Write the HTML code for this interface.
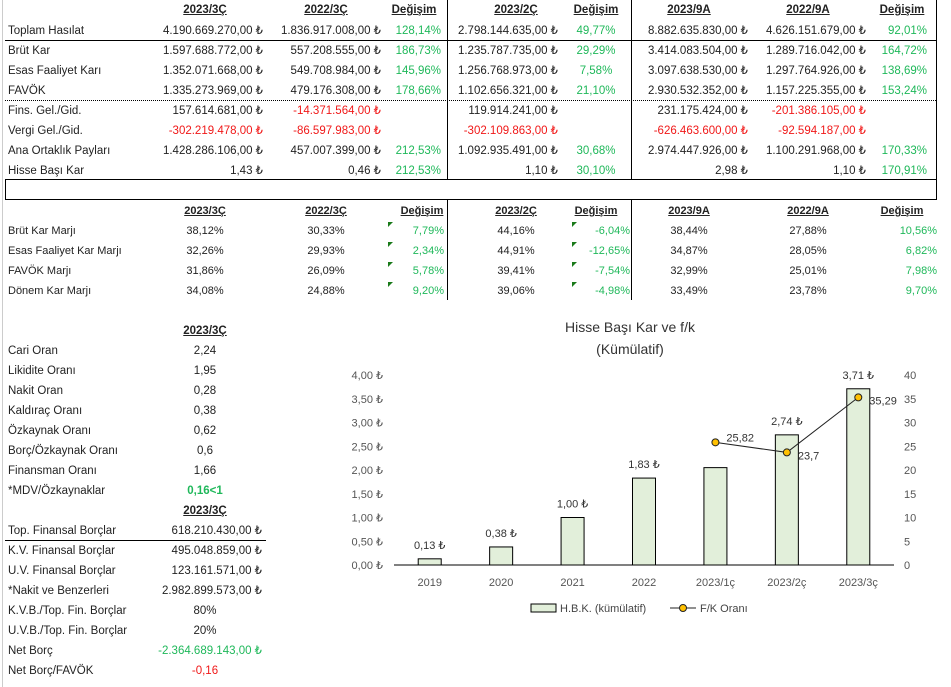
<!DOCTYPE html>
<html><head><meta charset="utf-8">
<style>
body{margin:0;width:951px;height:687px;background:#fff;position:relative;overflow:hidden;font-family:"Liberation Sans","DejaVu Sans",sans-serif;font-size:11.5px;color:#222}
.c{position:absolute;white-space:nowrap;line-height:14px}
.h{font-weight:bold;text-decoration:underline}
.g{color:#1fb85a}.r{color:#f01818}
.ln{position:absolute;background:#000}
.tri{position:absolute;width:0;height:0;border-top:5px solid #1a7a1a;border-right:5px solid transparent}
</style></head><body>
<div class="ln" style="left:2px;top:0;width:1px;height:687px;background:#ccc"></div>
<div class="ln" style="left:5px;top:40px;width:931px;height:1px"></div>
<div class="ln" style="left:5px;top:100px;width:931px;height:0;background:none;border-top:1px dotted #000"></div>
<div class="ln" style="left:447px;top:0;width:1px;height:180px"></div>
<div class="ln" style="left:631px;top:0;width:1px;height:180px"></div>
<div class="ln" style="left:447px;top:199px;width:1px;height:101px"></div>
<div class="ln" style="left:631px;top:199px;width:1px;height:101px"></div>
<div class="ln" style="left:936px;top:0;width:1px;height:200px"></div>
<div class="ln" style="left:5px;top:179px;width:930px;height:19px;background:none;border:1px solid #000"></div>
<div class="ln" style="left:5px;top:540px;width:261px;height:1px"></div>
<div id="cells"></div>
<svg id="chart" width="951" height="687" style="position:absolute;left:0;top:0" font-family="Liberation Sans, DejaVu Sans, sans-serif"></svg>
<script>
const rowsTop = [
["Toplam Hasılat","4.190.669.270,00 ₺","1.836.917.008,00 ₺","128,14%","2.798.144.635,00 ₺","49,77%","8.882.635.830,00 ₺","4.626.151.679,00 ₺","92,01%"],
["Brüt Kar","1.597.688.772,00 ₺","557.208.555,00 ₺","186,73%","1.235.787.735,00 ₺","29,29%","3.414.083.504,00 ₺","1.289.716.042,00 ₺","164,72%"],
["Esas Faaliyet Karı","1.352.071.668,00 ₺","549.708.984,00 ₺","145,96%","1.256.768.973,00 ₺","7,58%","3.097.638.530,00 ₺","1.297.764.926,00 ₺","138,69%"],
["FAVÖK","1.335.273.969,00 ₺","479.176.308,00 ₺","178,66%","1.102.656.321,00 ₺","21,10%","2.930.532.352,00 ₺","1.157.225.355,00 ₺","153,24%"],
["Fins. Gel./Gid.","157.614.681,00 ₺","-14.371.564,00 ₺","","119.914.241,00 ₺","","231.175.424,00 ₺","-201.386.105,00 ₺",""],
["Vergi Gel./Gid.","-302.219.478,00 ₺","-86.597.983,00 ₺","","-302.109.863,00 ₺","","-626.463.600,00 ₺","-92.594.187,00 ₺",""],
["Ana Ortaklık Payları","1.428.286.106,00 ₺","457.007.399,00 ₺","212,53%","1.092.935.491,00 ₺","30,68%","2.974.447.926,00 ₺","1.100.291.968,00 ₺","170,33%"],
["Hisse Başı Kar","1,43 ₺","0,46 ₺","212,53%","1,10 ₺","30,10%","2,98 ₺","1,10 ₺","170,91%"]];
const rowsMid = [
["Brüt Kar Marjı","38,12%","30,33%","7,79%","44,16%","-6,04%","38,44%","27,88%","10,56%"],
["Esas Faaliyet Kar Marjı","32,26%","29,93%","2,34%","44,91%","-12,65%","34,87%","28,05%","6,82%"],
["FAVÖK Marjı","31,86%","26,09%","5,78%","39,41%","-7,54%","32,99%","25,01%","7,98%"],
["Dönem Kar Marjı","34,08%","24,88%","9,20%","39,06%","-4,98%","33,49%","23,78%","9,70%"]];
const ratios = [["Cari Oran","2,24"],["Likidite Oranı","1,95"],["Nakit Oran","0,28"],["Kaldıraç Oranı","0,38"],["Özkaynak Oranı","0,62"],["Borç/Özkaynak Oranı","0,6"],["Finansman Oranı","1,66"],["*MDV/Özkaynaklar","0,16<1"]];
const debts = [["Top. Finansal Borçlar","618.210.430,00 ₺"],["K.V. Finansal Borçlar","495.048.859,00 ₺"],["U.V. Finansal Borçlar","123.161.571,00 ₺"],["*Nakit ve Benzerleri","2.982.899.573,00 ₺"],["K.V.B./Top. Fin. Borçlar","80%"],["U.V.B./Top. Fin. Borçlar","20%"],["Net Borç","-2.364.689.143,00 ₺"],["Net Borç/FAVÖK","-0,16"]];
const heads = ["2023/3Ç","2022/3Ç","Değişim","2023/2Ç","Değişim","2023/9A","2022/9A","Değişim"];

const box = document.getElementById('cells');
function cell(t, x, y, al, cls, fs){
  const d = document.createElement('div');
  d.className = 'c ' + (cls||'');
  d.textContent = t;
  if (fs) d.style.fontSize = fs + 'px';
  if (al === 'r') { d.style.right = (951 - x) + 'px'; }
  else if (al === 'c') { d.style.left = (x - 100) + 'px'; d.style.width = '200px'; d.style.textAlign = 'center'; }
  else d.style.left = x + 'px';
  d.style.top = (y - 7) + 'px';
  box.appendChild(d);
  return d;
}
const topHeadX = [205,326,414,516,596,689,808,902];
const topValX = [263,381,441,558,596,748,866,927];
const topValAl = ['r','r','r','r','c','r','r','r'];
heads.forEach((h,i)=>{
  const e = cell(h, topHeadX[i], 10, 'c', 'h');
  
  
});
rowsTop.forEach((row,ri)=>{
  const y = 31 + ri*20;
  const l = cell(row[0], 8, y, 'l');
  
  
  for (let i=1;i<row.length;i++){
    if (!row[i]) continue;
    const chg = (i===3||i===5||i===8);
    const cls = chg ? 'g' : (row[i][0]==='-' ? 'r' : '');
    const e = cell(row[i], topValX[i-1], y, topValAl[i-1], cls);
    
    
  }
});
const midHeadX = [205,326,422,516,596,689,808,902];
const midValX = [205,326,444,516,630,689,808,937];
const midAl = ['c','c','r','c','r','c','c','r'];
heads.forEach((h,i)=>{
  const e = cell(h, midHeadX[i], 211, 'c', 'h', 11);
  
  
});
rowsMid.forEach((row,ri)=>{
  const y = 231 + ri*20;
  const l = cell(row[0], 8, y, 'l', '', 11);
  
  
  for (let i=1;i<row.length;i++){
    const chg = (i===3||i===5||i===8);
    const e = cell(row[i], midValX[i-1], y, midAl[i-1], chg?'g':'', 11);
    
    
  }
  [388,572].forEach(tx=>{
    const t = document.createElement('div');
    t.className = 'tri';
    t.style.left = tx + 'px'; t.style.top = (y - 9) + 'px';
    
    
    box.appendChild(t);
  });
});
[331,511].forEach(y=>{
  const e = cell("2023/3Ç", 205, y, 'c', 'h');
  
  
});
ratios.forEach((r,i)=>{
  const y = 351 + i*20;
  const l = cell(r[0], 8, y, 'l');
  
  
  const v = cell(r[1], 205, y, 'c', i===7 ? 'g' : '');
  if (i===7) v.style.fontWeight = 'bold';
  
  
});
debts.forEach((r,i)=>{
  const y = 531 + i*20;
  const l = cell(r[0], 8, y, 'l');
  
  
  const money = r[1].indexOf('₺')>=0;
  const cls = i===6 ? 'g' : (i===7 ? 'r' : '');
  const v = cell(r[1], money?262:205, y, money?'r':'c', cls);
  
  
});

// ---- chart
const categories = ["2019","2020","2021","2022","2023/1ç","2023/2ç","2023/3ç"];
const epsValues = [0.13,0.38,1.00,1.83,2.05,2.74,3.71];
const epsLabels = ["0,13 ₺","0,38 ₺","1,00 ₺","1,83 ₺","","2,74 ₺","3,71 ₺"];
const peValues = [null,null,null,null,25.82,23.7,35.29];
const peLabels = ["","","","","25,82","23,7","35,29"];
const leftTicks = [0,0.5,1,1.5,2,2.5,3,3.5,4];
const leftTickLabels = ["0,00 ₺","0,50 ₺","1,00 ₺","1,50 ₺","2,00 ₺","2,50 ₺","3,00 ₺","3,50 ₺","4,00 ₺"];
const rightTicks = [0,5,10,15,20,25,30,35,40];

const svg = document.getElementById('chart');
const NS = 'http://www.w3.org/2000/svg';
const y0 = 565, yTop = 375, xL = 394, xR = 894;
const yL = v => y0 - v/4*(y0-yTop);
const yR = v => y0 - v/40*(y0-yTop);
const xC = i => xL + (xR-xL)/categories.length*(i+0.5);
function mk(tag, attrs, txt){
  const e = document.createElementNS(NS, tag);
  for (const k in attrs) e.setAttribute(k, attrs[k]);
  if (txt!==undefined) e.textContent = txt;
  svg.appendChild(e);
  return e;
}
let t;
t = mk('text',{x:630,y:332,'text-anchor':'middle','font-size':14,fill:'#333'},'Hisse Başı Kar ve f/k');


t = mk('text',{x:630,y:354,'text-anchor':'middle','font-size':14,fill:'#333'},'(Kümülatif)');


leftTicks.forEach((v,i)=>{
  const e = mk('text',{x:383,y:yL(v)+4,'text-anchor':'end','font-size':11,fill:'#555'},leftTickLabels[i]);
  
  
});
rightTicks.forEach(v=>{
  const e = mk('text',{x:904,y:yR(v)+4,'font-size':11,fill:'#555'},String(v));
  
  
});
const bw = 23;
categories.forEach((c,i)=>{
  const b = mk('rect',{x:xC(i)-bw/2,y:yL(epsValues[i]),width:bw,height:y0-yL(epsValues[i]),fill:'#e2efda',stroke:'#000','stroke-width':1});
  
  
  if (epsLabels[i]) {
    const l = mk('text',{x:xC(i),y:yL(epsValues[i])-10,'text-anchor':'middle','font-size':11,fill:'#333'},epsLabels[i]);
    
    
  }
  const xl = mk('text',{x:xC(i),y:586,'text-anchor':'middle','font-size':11,fill:'#555'},c);
  
  
});
const ax = mk('line',{x1:xL,y1:y0,x2:xR,y2:y0,stroke:'#000','stroke-width':1});


let pts = [];
peValues.forEach((v,i)=>{ if (v!==null) pts.push(xC(i)+','+yR(v)); });
const pl = mk('polyline',{points:pts.join(' '),fill:'none',stroke:'#222','stroke-width':1});


peValues.forEach((v,i)=>{
  if (v===null) return;
  const d = mk('circle',{cx:xC(i),cy:yR(v),r:3.5,fill:'#ffc000',stroke:'#222','stroke-width':1});
  
  
  const l = mk('text',{x:xC(i)+11,y:yR(v)+(i===4?-1:7),'font-size':11,fill:'#333'},peLabels[i]);
  
  
});
const lr = mk('rect',{x:531,y:604,width:25,height:8,fill:'#e2efda',stroke:'#000','stroke-width':1});


t = mk('text',{x:560,y:612,'font-size':11,fill:'#444'},'H.B.K. (kümülatif)');


const ll = mk('line',{x1:670,y1:608,x2:696,y2:608,stroke:'#222','stroke-width':1});


const lc = mk('circle',{cx:683,cy:608,r:3.5,fill:'#ffc000',stroke:'#222','stroke-width':1});


t = mk('text',{x:700,y:612,'font-size':11,fill:'#444'},'F/K Oranı');


</script>
</body></html>
